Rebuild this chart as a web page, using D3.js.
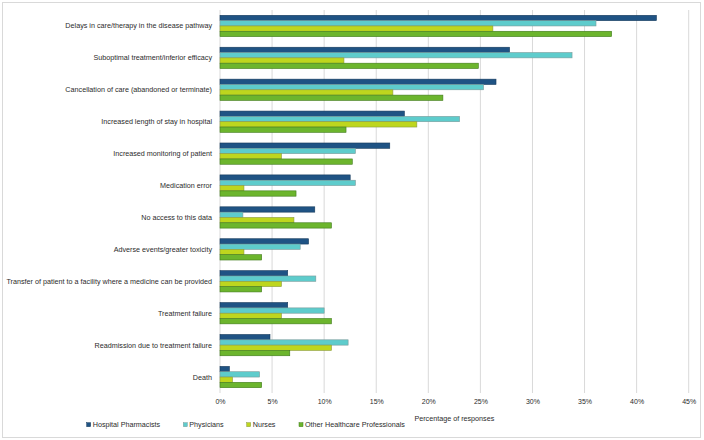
<!DOCTYPE html>
<html><head><meta charset="utf-8">
<script src="https://cdn.jsdelivr.net/npm/d3@7"></script>
<style>body{margin:0;background:#fff}svg{display:block}text{font-family:"Liberation Sans",Arial,sans-serif;fill:#2b2b2b}</style>
</head><body><svg id="c" width="704" height="440"></svg>
<script>
const categories = [
  "Delays in care/therapy in the disease pathway",
  "Suboptimal treatment/inferior efficacy",
  "Cancellation of care (abandoned or terminate)",
  "Increased length of stay in hospital",
  "Increased monitoring of patient",
  "Medication error",
  "No access to this data",
  "Adverse events/greater toxicity",
  "Transfer of patient to a facility where a medicine can be provided",
  "Treatment failure",
  "Readmission due to treatment failure",
  "Death"
];
const seriesNames = ["Hospital Pharmacists","Physicians","Nurses","Other Healthcare Professionals"];
const hospitalPharmacists = [41.9,27.8,26.5,17.7,16.3,12.5,9.1,8.5,6.5,6.5,4.8,0.9];
const physicians          = [36.1,33.8,25.3,23.0,13.0,13.0,2.2,7.7,9.2,10.0,12.3,3.8];
const nurses              = [26.2,11.9,16.6,18.9,5.9,2.3,7.1,2.3,5.9,5.9,10.7,1.2];
const otherHCP            = [37.6,24.8,21.4,12.1,12.7,7.3,10.7,4.0,4.0,10.7,6.7,4.0];
const xTicks = [0,5,10,15,20,25,30,35,40,45];

const seriesValues = [hospitalPharmacists, physicians, nurses, otherHCP];
const fills = ["#1f5384","#5ecccc","#bed61e","#6cb52d"];
const strokes = ["#163a5c","#7a9a9a","#8a9a40","#3f7a1a"];

const svg = d3.select("#c");
svg.append("rect").attr("x",2.5).attr("y",2.5).attr("width",698).attr("height",435)
  .attr("fill","#fff").attr("stroke","#d9d9d9").attr("stroke-width",1);

const x = d3.scaleLinear().domain([0,45]).range([220,688.7]);
const y = d3.scaleBand().domain(categories).range([10,393]).paddingInner(1/3).paddingOuter(1/6);
const ys = d3.scaleBand().domain(seriesNames).range([0,y.bandwidth()]);

// gridlines
svg.append("g").selectAll("line").data(xTicks).join("line")
  .attr("x1",d=>x(d)).attr("x2",d=>x(d)).attr("y1",10).attr("y2",393)
  .attr("stroke","#d9d9d9").attr("stroke-width",1);

// bars
const groups = svg.append("g").selectAll("g").data(categories).join("g")
  .attr("transform",c=>`translate(0,${y(c)})`);
groups.selectAll("rect").data((c,i)=>seriesNames.map((s,j)=>({s,j,v:seriesValues[j][i]}))).join("rect")
  .attr("x",x(0)).attr("y",d=>ys(d.s)).attr("width",d=>x(d.v)-x(0)).attr("height",ys.bandwidth())
  .attr("fill",d=>fills[d.j]).attr("stroke",d=>strokes[d.j]).attr("stroke-width",0.6);

// category labels
svg.append("g").selectAll("text").data(categories).join("text")
  .attr("x",212).attr("y",c=>y(c)+y.bandwidth()/2).attr("dy","0.35em")
  .attr("text-anchor","end").attr("font-size",7.2).text(c=>c);

// x axis
const xAxis = d3.axisBottom(x).tickValues(xTicks).tickFormat(d=>d+"%").tickSize(0).tickPadding(0);
const ax = svg.append("g").attr("transform","translate(0,400)").call(xAxis);
ax.select(".domain").remove();
ax.selectAll("text").attr("font-size",7).attr("fill","#2b2b2b").attr("dy","0.6em")
  .style("font-family","Liberation Sans, Arial, sans-serif");

svg.append("text").attr("x",(x(0)+x(45))/2).attr("y",418).attr("dy","0.35em")
  .attr("text-anchor","middle").attr("font-size",7.2).text("Percentage of responses");

// legend
const legX = [86.7,183.3,246.7,299];
const leg = svg.append("g").selectAll("g").data(seriesNames).join("g")
  .attr("transform",(d,i)=>`translate(${legX[i]},424.7)`);
leg.append("rect").attr("x",0).attr("y",-2).attr("width",4).attr("height",4)
  .attr("fill",(d,i)=>fills[i]).attr("stroke",(d,i)=>strokes[i]).attr("stroke-width",0.5);
leg.append("text").attr("x",6).attr("y",0).attr("dy","0.35em").attr("font-size",7.2).text(d=>d);
</script></body></html>
